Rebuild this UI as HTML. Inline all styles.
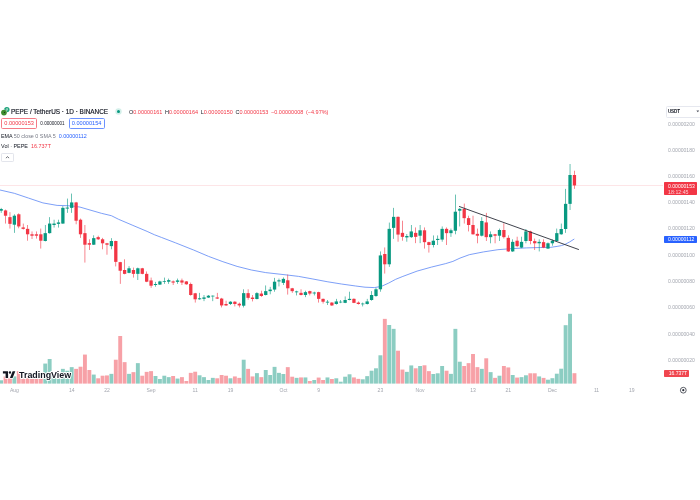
<!DOCTYPE html>
<html><head><meta charset="utf-8"><title>PEPE / TetherUS</title>
<style>
html,body{margin:0;padding:0;background:#fff;}
body{width:700px;height:500px;position:relative;overflow:hidden;font-family:"Liberation Sans",sans-serif;}
.t{position:absolute;white-space:nowrap;line-height:1;}
.ax{position:absolute;left:668.1px;font-size:5.05px;color:#a3a6af;line-height:1;white-space:nowrap;}
.dt{position:absolute;top:387.8px;font-size:5.05px;color:#a3a6af;line-height:1;white-space:nowrap;transform:translateX(-50%);}
.box{position:absolute;box-sizing:border-box;}
</style></head><body>
<svg width="700" height="500" viewBox="0 0 700 500" style="position:absolute;left:0;top:0">
<line x1="0" y1="185.5" x2="663" y2="185.5" stroke="#f8a9af" stroke-width="0.6" stroke-dasharray="0.5 0.5"/>
<rect x="-0.81" y="380.29" width="3.90" height="3.31" fill="#8ccdc2"/>
<rect x="3.60" y="376.43" width="3.90" height="7.17" fill="#f7a1a7"/>
<rect x="8.01" y="377.86" width="3.90" height="5.74" fill="#f7a1a7"/>
<rect x="12.42" y="376.43" width="3.90" height="7.17" fill="#8ccdc2"/>
<rect x="16.83" y="371.14" width="3.90" height="12.46" fill="#f7a1a7"/>
<rect x="21.24" y="378.57" width="3.90" height="5.03" fill="#f7a1a7"/>
<rect x="25.65" y="377.14" width="3.90" height="6.46" fill="#f7a1a7"/>
<rect x="30.06" y="378.86" width="3.90" height="4.74" fill="#f7a1a7"/>
<rect x="34.47" y="378.86" width="3.90" height="4.74" fill="#f7a1a7"/>
<rect x="38.88" y="377.86" width="3.90" height="5.74" fill="#f7a1a7"/>
<rect x="43.29" y="363.57" width="3.90" height="20.03" fill="#8ccdc2"/>
<rect x="47.70" y="359.00" width="3.90" height="24.60" fill="#8ccdc2"/>
<rect x="52.11" y="377.86" width="3.90" height="5.74" fill="#8ccdc2"/>
<rect x="56.52" y="378.57" width="3.90" height="5.03" fill="#8ccdc2"/>
<rect x="60.93" y="368.86" width="3.90" height="14.74" fill="#8ccdc2"/>
<rect x="65.34" y="370.71" width="3.90" height="12.89" fill="#8ccdc2"/>
<rect x="69.75" y="367.14" width="3.90" height="16.46" fill="#8ccdc2"/>
<rect x="74.16" y="368.86" width="3.90" height="14.74" fill="#f7a1a7"/>
<rect x="78.57" y="366.71" width="3.90" height="16.89" fill="#f7a1a7"/>
<rect x="82.98" y="354.57" width="3.90" height="29.03" fill="#f7a1a7"/>
<rect x="87.39" y="370.00" width="3.90" height="13.60" fill="#f7a1a7"/>
<rect x="91.80" y="374.57" width="3.90" height="9.03" fill="#8ccdc2"/>
<rect x="96.21" y="378.29" width="3.90" height="5.31" fill="#f7a1a7"/>
<rect x="100.62" y="375.71" width="3.90" height="7.89" fill="#f7a1a7"/>
<rect x="105.03" y="375.43" width="3.90" height="8.17" fill="#f7a1a7"/>
<rect x="109.44" y="373.86" width="3.90" height="9.74" fill="#8ccdc2"/>
<rect x="113.85" y="359.71" width="3.90" height="23.89" fill="#f7a1a7"/>
<rect x="118.26" y="336.00" width="3.90" height="47.60" fill="#f7a1a7"/>
<rect x="122.67" y="362.14" width="3.90" height="21.46" fill="#f7a1a7"/>
<rect x="127.08" y="373.86" width="3.90" height="9.74" fill="#8ccdc2"/>
<rect x="131.49" y="372.14" width="3.90" height="11.46" fill="#f7a1a7"/>
<rect x="135.90" y="363.14" width="3.90" height="20.46" fill="#8ccdc2"/>
<rect x="140.31" y="375.71" width="3.90" height="7.89" fill="#f7a1a7"/>
<rect x="144.72" y="371.86" width="3.90" height="11.74" fill="#f7a1a7"/>
<rect x="149.13" y="371.14" width="3.90" height="12.46" fill="#f7a1a7"/>
<rect x="153.54" y="376.00" width="3.90" height="7.60" fill="#8ccdc2"/>
<rect x="157.95" y="379.00" width="3.90" height="4.60" fill="#8ccdc2"/>
<rect x="162.36" y="375.71" width="3.90" height="7.89" fill="#8ccdc2"/>
<rect x="166.77" y="377.14" width="3.90" height="6.46" fill="#8ccdc2"/>
<rect x="171.18" y="376.00" width="3.90" height="7.60" fill="#f7a1a7"/>
<rect x="175.59" y="378.57" width="3.90" height="5.03" fill="#8ccdc2"/>
<rect x="180.00" y="377.14" width="3.90" height="6.46" fill="#f7a1a7"/>
<rect x="184.41" y="381.00" width="3.90" height="2.60" fill="#f7a1a7"/>
<rect x="188.82" y="372.86" width="3.90" height="10.74" fill="#f7a1a7"/>
<rect x="193.23" y="371.71" width="3.90" height="11.89" fill="#f7a1a7"/>
<rect x="197.64" y="375.29" width="3.90" height="8.31" fill="#8ccdc2"/>
<rect x="202.05" y="377.14" width="3.90" height="6.46" fill="#8ccdc2"/>
<rect x="206.46" y="380.00" width="3.90" height="3.60" fill="#8ccdc2"/>
<rect x="210.87" y="377.86" width="3.90" height="5.74" fill="#8ccdc2"/>
<rect x="215.28" y="378.29" width="3.90" height="5.31" fill="#f7a1a7"/>
<rect x="219.69" y="375.00" width="3.90" height="8.60" fill="#f7a1a7"/>
<rect x="224.10" y="375.71" width="3.90" height="7.89" fill="#f7a1a7"/>
<rect x="228.51" y="378.29" width="3.90" height="5.31" fill="#8ccdc2"/>
<rect x="232.92" y="376.43" width="3.90" height="7.17" fill="#f7a1a7"/>
<rect x="237.33" y="377.86" width="3.90" height="5.74" fill="#f7a1a7"/>
<rect x="241.74" y="359.71" width="3.90" height="23.89" fill="#8ccdc2"/>
<rect x="246.15" y="368.86" width="3.90" height="14.74" fill="#f7a1a7"/>
<rect x="250.56" y="376.43" width="3.90" height="7.17" fill="#f7a1a7"/>
<rect x="254.97" y="373.14" width="3.90" height="10.46" fill="#8ccdc2"/>
<rect x="259.38" y="377.14" width="3.90" height="6.46" fill="#f7a1a7"/>
<rect x="263.79" y="370.00" width="3.90" height="13.60" fill="#8ccdc2"/>
<rect x="268.20" y="375.00" width="3.90" height="8.60" fill="#8ccdc2"/>
<rect x="272.61" y="366.86" width="3.90" height="16.74" fill="#8ccdc2"/>
<rect x="277.02" y="372.86" width="3.90" height="10.74" fill="#8ccdc2"/>
<rect x="281.43" y="374.00" width="3.90" height="9.60" fill="#8ccdc2"/>
<rect x="285.84" y="367.14" width="3.90" height="16.46" fill="#f7a1a7"/>
<rect x="290.25" y="376.71" width="3.90" height="6.89" fill="#f7a1a7"/>
<rect x="294.66" y="377.86" width="3.90" height="5.74" fill="#8ccdc2"/>
<rect x="299.07" y="377.43" width="3.90" height="6.17" fill="#f7a1a7"/>
<rect x="303.48" y="377.43" width="3.90" height="6.17" fill="#8ccdc2"/>
<rect x="307.89" y="381.00" width="3.90" height="2.60" fill="#f7a1a7"/>
<rect x="312.30" y="380.00" width="3.90" height="3.60" fill="#8ccdc2"/>
<rect x="316.71" y="377.57" width="3.90" height="6.03" fill="#f7a1a7"/>
<rect x="321.12" y="380.00" width="3.90" height="3.60" fill="#f7a1a7"/>
<rect x="325.53" y="377.43" width="3.90" height="6.17" fill="#8ccdc2"/>
<rect x="329.94" y="379.00" width="3.90" height="4.60" fill="#f7a1a7"/>
<rect x="334.35" y="378.29" width="3.90" height="5.31" fill="#8ccdc2"/>
<rect x="338.76" y="381.71" width="3.90" height="1.89" fill="#8ccdc2"/>
<rect x="343.17" y="376.71" width="3.90" height="6.89" fill="#8ccdc2"/>
<rect x="347.58" y="374.29" width="3.90" height="9.31" fill="#8ccdc2"/>
<rect x="351.99" y="377.43" width="3.90" height="6.17" fill="#f7a1a7"/>
<rect x="356.40" y="378.86" width="3.90" height="4.74" fill="#f7a1a7"/>
<rect x="360.81" y="379.29" width="3.90" height="4.31" fill="#8ccdc2"/>
<rect x="365.22" y="376.14" width="3.90" height="7.46" fill="#8ccdc2"/>
<rect x="369.63" y="370.71" width="3.90" height="12.89" fill="#8ccdc2"/>
<rect x="374.04" y="368.29" width="3.90" height="15.31" fill="#8ccdc2"/>
<rect x="378.45" y="355.29" width="3.90" height="28.31" fill="#8ccdc2"/>
<rect x="382.86" y="318.86" width="3.90" height="64.74" fill="#f7a1a7"/>
<rect x="387.27" y="325.00" width="3.90" height="58.60" fill="#8ccdc2"/>
<rect x="391.68" y="328.86" width="3.90" height="54.74" fill="#8ccdc2"/>
<rect x="396.09" y="350.71" width="3.90" height="32.89" fill="#f7a1a7"/>
<rect x="400.50" y="369.57" width="3.90" height="14.03" fill="#f7a1a7"/>
<rect x="404.91" y="371.86" width="3.90" height="11.74" fill="#8ccdc2"/>
<rect x="409.32" y="365.43" width="3.90" height="18.17" fill="#8ccdc2"/>
<rect x="413.73" y="368.29" width="3.90" height="15.31" fill="#f7a1a7"/>
<rect x="418.14" y="366.00" width="3.90" height="17.60" fill="#8ccdc2"/>
<rect x="422.55" y="365.29" width="3.90" height="18.31" fill="#f7a1a7"/>
<rect x="426.96" y="371.14" width="3.90" height="12.46" fill="#f7a1a7"/>
<rect x="431.37" y="374.00" width="3.90" height="9.60" fill="#8ccdc2"/>
<rect x="435.78" y="373.29" width="3.90" height="10.31" fill="#8ccdc2"/>
<rect x="440.19" y="366.00" width="3.90" height="17.60" fill="#8ccdc2"/>
<rect x="444.60" y="370.71" width="3.90" height="12.89" fill="#f7a1a7"/>
<rect x="449.01" y="373.86" width="3.90" height="9.74" fill="#8ccdc2"/>
<rect x="453.42" y="328.86" width="3.90" height="54.74" fill="#8ccdc2"/>
<rect x="457.83" y="361.71" width="3.90" height="21.89" fill="#8ccdc2"/>
<rect x="462.24" y="366.00" width="3.90" height="17.60" fill="#f7a1a7"/>
<rect x="466.65" y="363.14" width="3.90" height="20.46" fill="#f7a1a7"/>
<rect x="471.06" y="354.00" width="3.90" height="29.60" fill="#f7a1a7"/>
<rect x="475.47" y="367.14" width="3.90" height="16.46" fill="#f7a1a7"/>
<rect x="479.88" y="368.86" width="3.90" height="14.74" fill="#8ccdc2"/>
<rect x="484.29" y="358.29" width="3.90" height="25.31" fill="#f7a1a7"/>
<rect x="488.70" y="372.14" width="3.90" height="11.46" fill="#8ccdc2"/>
<rect x="493.11" y="377.86" width="3.90" height="5.74" fill="#f7a1a7"/>
<rect x="497.52" y="375.71" width="3.90" height="7.89" fill="#8ccdc2"/>
<rect x="501.93" y="366.00" width="3.90" height="17.60" fill="#f7a1a7"/>
<rect x="506.34" y="367.43" width="3.90" height="16.17" fill="#f7a1a7"/>
<rect x="510.75" y="375.00" width="3.90" height="8.60" fill="#8ccdc2"/>
<rect x="515.16" y="377.57" width="3.90" height="6.03" fill="#f7a1a7"/>
<rect x="519.57" y="377.14" width="3.90" height="6.46" fill="#8ccdc2"/>
<rect x="523.98" y="375.29" width="3.90" height="8.31" fill="#8ccdc2"/>
<rect x="528.39" y="373.29" width="3.90" height="10.31" fill="#f7a1a7"/>
<rect x="532.80" y="373.29" width="3.90" height="10.31" fill="#f7a1a7"/>
<rect x="537.21" y="376.43" width="3.90" height="7.17" fill="#8ccdc2"/>
<rect x="541.62" y="377.90" width="3.90" height="5.70" fill="#f7a1a7"/>
<rect x="546.03" y="379.70" width="3.90" height="3.90" fill="#8ccdc2"/>
<rect x="550.44" y="378.20" width="3.90" height="5.40" fill="#8ccdc2"/>
<rect x="554.85" y="373.70" width="3.90" height="9.90" fill="#8ccdc2"/>
<rect x="559.26" y="368.70" width="3.90" height="14.90" fill="#8ccdc2"/>
<rect x="563.67" y="325.20" width="3.90" height="58.40" fill="#8ccdc2"/>
<rect x="568.08" y="313.80" width="3.90" height="69.80" fill="#8ccdc2"/>
<rect x="572.49" y="373.20" width="3.90" height="10.40" fill="#f7a1a7"/>
<polyline fill="none" stroke="#5c87f5" stroke-width="0.8" stroke-linejoin="round" points="0.0,190.0 14.3,193.3 28.6,198.1 42.9,202.9 57.1,205.4 67.1,205.7 74.0,206.2 80.0,207.1 90.0,210.0 101.4,213.3 111.4,215.7 118.6,219.3 132.9,225.4 147.1,231.4 154.3,234.7 161.4,237.4 175.7,242.9 190.0,248.6 193.6,250.0 208.6,256.4 222.9,261.7 237.1,266.4 251.4,270.0 265.7,272.6 280.0,274.2 287.1,275.0 298.6,276.4 312.9,279.0 327.1,281.7 341.4,284.0 355.7,286.0 365.0,287.2 374.3,287.6 381.4,286.4 388.6,283.1 395.7,279.3 402.9,276.4 417.1,271.1 431.4,267.1 445.7,263.6 452.9,261.4 460.0,258.1 469.3,254.7 483.6,251.9 497.9,249.7 512.1,248.6 526.4,247.9 540.7,247.5 550.3,247.4 557.1,246.4 561.4,245.6 565.0,244.4 569.5,242.0 574.3,239.0"/>
<rect x="0.84" y="207.86" width="0.6" height="5.00" fill="#089981"/>
<rect x="-0.51" y="209.00" width="3.30" height="1.71" fill="#089981"/>
<rect x="5.25" y="209.57" width="0.6" height="14.00" fill="#f23645"/>
<rect x="3.90" y="210.43" width="3.30" height="5.29" fill="#f23645"/>
<rect x="9.66" y="212.14" width="0.6" height="16.43" fill="#f23645"/>
<rect x="8.31" y="217.14" width="3.30" height="6.71" fill="#f23645"/>
<rect x="14.07" y="214.29" width="0.6" height="18.57" fill="#089981"/>
<rect x="12.72" y="215.71" width="3.30" height="9.00" fill="#089981"/>
<rect x="18.48" y="213.29" width="0.6" height="15.00" fill="#f23645"/>
<rect x="17.13" y="214.29" width="3.30" height="12.14" fill="#f23645"/>
<rect x="22.89" y="223.57" width="0.6" height="6.00" fill="#f23645"/>
<rect x="21.54" y="227.43" width="3.30" height="1.43" fill="#f23645"/>
<rect x="27.30" y="225.00" width="0.6" height="15.71" fill="#f23645"/>
<rect x="25.95" y="228.86" width="3.30" height="5.43" fill="#f23645"/>
<rect x="31.71" y="231.43" width="0.6" height="7.57" fill="#f23645"/>
<rect x="30.36" y="234.29" width="3.30" height="1.43" fill="#f23645"/>
<rect x="36.12" y="231.43" width="0.6" height="7.14" fill="#f23645"/>
<rect x="34.77" y="234.29" width="3.30" height="1.43" fill="#f23645"/>
<rect x="40.53" y="228.57" width="0.6" height="20.00" fill="#f23645"/>
<rect x="39.18" y="234.29" width="3.30" height="6.43" fill="#f23645"/>
<rect x="44.94" y="225.00" width="0.6" height="16.43" fill="#089981"/>
<rect x="43.59" y="233.14" width="3.30" height="7.86" fill="#089981"/>
<rect x="49.35" y="217.14" width="0.6" height="16.43" fill="#089981"/>
<rect x="48.00" y="223.57" width="3.30" height="9.57" fill="#089981"/>
<rect x="53.76" y="219.71" width="0.6" height="7.86" fill="#089981"/>
<rect x="52.41" y="223.57" width="3.30" height="1.43" fill="#089981"/>
<rect x="58.17" y="219.71" width="0.6" height="7.86" fill="#089981"/>
<rect x="56.82" y="222.43" width="3.30" height="1.43" fill="#089981"/>
<rect x="62.58" y="206.14" width="0.6" height="17.71" fill="#089981"/>
<rect x="61.23" y="207.86" width="3.30" height="15.71" fill="#089981"/>
<rect x="66.99" y="198.57" width="0.6" height="14.29" fill="#089981"/>
<rect x="65.64" y="207.57" width="3.30" height="1.00" fill="#089981"/>
<rect x="71.40" y="193.57" width="0.6" height="19.29" fill="#089981"/>
<rect x="70.05" y="202.43" width="3.30" height="5.43" fill="#089981"/>
<rect x="75.81" y="201.86" width="0.6" height="22.43" fill="#f23645"/>
<rect x="74.46" y="202.43" width="3.30" height="18.29" fill="#f23645"/>
<rect x="80.22" y="218.57" width="0.6" height="19.29" fill="#f23645"/>
<rect x="78.87" y="219.71" width="3.30" height="14.57" fill="#f23645"/>
<rect x="84.63" y="225.00" width="0.6" height="37.57" fill="#f23645"/>
<rect x="83.28" y="233.14" width="3.30" height="11.57" fill="#f23645"/>
<rect x="89.04" y="239.29" width="0.6" height="10.71" fill="#f23645"/>
<rect x="87.69" y="243.14" width="3.30" height="1.57" fill="#f23645"/>
<rect x="93.45" y="235.29" width="0.6" height="9.71" fill="#089981"/>
<rect x="92.10" y="238.14" width="3.30" height="6.57" fill="#089981"/>
<rect x="97.86" y="235.71" width="0.6" height="4.29" fill="#f23645"/>
<rect x="96.51" y="237.14" width="3.30" height="2.14" fill="#f23645"/>
<rect x="102.27" y="237.86" width="0.6" height="11.43" fill="#f23645"/>
<rect x="100.92" y="239.29" width="3.30" height="4.00" fill="#f23645"/>
<rect x="106.68" y="242.86" width="0.6" height="11.86" fill="#f23645"/>
<rect x="105.33" y="243.29" width="3.30" height="1.43" fill="#f23645"/>
<rect x="111.09" y="238.14" width="0.6" height="11.14" fill="#089981"/>
<rect x="109.74" y="241.00" width="3.30" height="5.14" fill="#089981"/>
<rect x="115.50" y="240.71" width="0.6" height="25.71" fill="#f23645"/>
<rect x="114.15" y="241.00" width="3.30" height="20.86" fill="#f23645"/>
<rect x="119.91" y="261.86" width="0.6" height="22.00" fill="#f23645"/>
<rect x="118.56" y="262.14" width="3.30" height="8.57" fill="#f23645"/>
<rect x="124.32" y="259.29" width="0.6" height="15.00" fill="#f23645"/>
<rect x="122.97" y="270.00" width="3.30" height="3.86" fill="#f23645"/>
<rect x="128.73" y="266.14" width="0.6" height="7.14" fill="#089981"/>
<rect x="127.38" y="268.29" width="3.30" height="4.57" fill="#089981"/>
<rect x="133.14" y="267.57" width="0.6" height="10.00" fill="#f23645"/>
<rect x="131.79" y="270.00" width="3.30" height="3.86" fill="#f23645"/>
<rect x="137.55" y="267.57" width="0.6" height="12.43" fill="#089981"/>
<rect x="136.20" y="268.29" width="3.30" height="5.57" fill="#089981"/>
<rect x="141.96" y="267.86" width="0.6" height="6.43" fill="#f23645"/>
<rect x="140.61" y="268.29" width="3.30" height="5.57" fill="#f23645"/>
<rect x="146.37" y="271.43" width="0.6" height="10.71" fill="#f23645"/>
<rect x="145.02" y="273.86" width="3.30" height="7.86" fill="#f23645"/>
<rect x="150.78" y="277.57" width="0.6" height="10.29" fill="#f23645"/>
<rect x="149.43" y="280.43" width="3.30" height="5.29" fill="#f23645"/>
<rect x="155.19" y="281.86" width="0.6" height="4.86" fill="#089981"/>
<rect x="153.84" y="284.00" width="3.30" height="1.00" fill="#089981"/>
<rect x="159.60" y="280.71" width="0.6" height="4.29" fill="#089981"/>
<rect x="158.25" y="281.43" width="3.30" height="3.14" fill="#089981"/>
<rect x="164.01" y="277.57" width="0.6" height="6.29" fill="#089981"/>
<rect x="162.66" y="281.00" width="3.30" height="0.71" fill="#089981"/>
<rect x="168.42" y="278.57" width="0.6" height="5.29" fill="#089981"/>
<rect x="167.07" y="280.14" width="3.30" height="1.57" fill="#089981"/>
<rect x="172.83" y="280.43" width="0.6" height="4.57" fill="#f23645"/>
<rect x="171.48" y="281.43" width="3.30" height="1.14" fill="#f23645"/>
<rect x="177.24" y="278.57" width="0.6" height="5.29" fill="#089981"/>
<rect x="175.89" y="280.43" width="3.30" height="1.43" fill="#089981"/>
<rect x="181.65" y="278.57" width="0.6" height="6.43" fill="#f23645"/>
<rect x="180.30" y="280.43" width="3.30" height="2.14" fill="#f23645"/>
<rect x="186.06" y="281.00" width="0.6" height="3.71" fill="#f23645"/>
<rect x="184.71" y="281.43" width="3.30" height="2.86" fill="#f23645"/>
<rect x="190.47" y="282.57" width="0.6" height="13.14" fill="#f23645"/>
<rect x="189.12" y="284.00" width="3.30" height="11.00" fill="#f23645"/>
<rect x="194.88" y="292.86" width="0.6" height="9.71" fill="#f23645"/>
<rect x="193.53" y="293.29" width="3.30" height="6.00" fill="#f23645"/>
<rect x="199.29" y="292.86" width="0.6" height="6.86" fill="#089981"/>
<rect x="197.94" y="298.29" width="3.30" height="1.00" fill="#089981"/>
<rect x="203.70" y="295.00" width="0.6" height="6.14" fill="#089981"/>
<rect x="202.35" y="297.43" width="3.30" height="1.43" fill="#089981"/>
<rect x="208.11" y="295.00" width="0.6" height="3.00" fill="#089981"/>
<rect x="206.76" y="295.71" width="3.30" height="1.86" fill="#089981"/>
<rect x="212.52" y="295.43" width="0.6" height="5.71" fill="#089981"/>
<rect x="211.17" y="295.71" width="3.30" height="0.71" fill="#089981"/>
<rect x="216.93" y="292.86" width="0.6" height="6.14" fill="#f23645"/>
<rect x="215.58" y="297.43" width="3.30" height="1.14" fill="#f23645"/>
<rect x="221.34" y="297.86" width="0.6" height="9.57" fill="#f23645"/>
<rect x="219.99" y="298.57" width="3.30" height="6.86" fill="#f23645"/>
<rect x="225.75" y="300.71" width="0.6" height="5.29" fill="#f23645"/>
<rect x="224.40" y="304.00" width="3.30" height="1.43" fill="#f23645"/>
<rect x="230.16" y="301.14" width="0.6" height="3.86" fill="#089981"/>
<rect x="228.81" y="301.71" width="3.30" height="2.29" fill="#089981"/>
<rect x="234.57" y="301.14" width="0.6" height="5.29" fill="#f23645"/>
<rect x="233.22" y="301.71" width="3.30" height="2.29" fill="#f23645"/>
<rect x="238.98" y="302.57" width="0.6" height="4.86" fill="#f23645"/>
<rect x="237.63" y="303.71" width="3.30" height="1.71" fill="#f23645"/>
<rect x="243.39" y="289.29" width="0.6" height="18.14" fill="#089981"/>
<rect x="242.04" y="293.14" width="3.30" height="12.57" fill="#089981"/>
<rect x="247.80" y="289.29" width="0.6" height="10.43" fill="#f23645"/>
<rect x="246.45" y="293.14" width="3.30" height="4.71" fill="#f23645"/>
<rect x="252.21" y="295.00" width="0.6" height="6.43" fill="#f23645"/>
<rect x="250.86" y="297.57" width="3.30" height="1.43" fill="#f23645"/>
<rect x="256.62" y="292.14" width="0.6" height="7.29" fill="#089981"/>
<rect x="255.27" y="293.14" width="3.30" height="5.86" fill="#089981"/>
<rect x="261.03" y="290.71" width="0.6" height="6.14" fill="#f23645"/>
<rect x="259.68" y="293.57" width="3.30" height="2.43" fill="#f23645"/>
<rect x="265.44" y="285.43" width="0.6" height="10.00" fill="#089981"/>
<rect x="264.09" y="291.14" width="3.30" height="3.86" fill="#089981"/>
<rect x="269.85" y="286.86" width="0.6" height="7.43" fill="#089981"/>
<rect x="268.50" y="289.57" width="3.30" height="1.57" fill="#089981"/>
<rect x="274.26" y="277.86" width="0.6" height="13.86" fill="#089981"/>
<rect x="272.91" y="281.71" width="3.30" height="7.86" fill="#089981"/>
<rect x="278.67" y="278.57" width="0.6" height="7.86" fill="#089981"/>
<rect x="277.32" y="280.29" width="3.30" height="1.14" fill="#089981"/>
<rect x="283.08" y="277.43" width="0.6" height="7.57" fill="#089981"/>
<rect x="281.73" y="278.86" width="3.30" height="4.00" fill="#089981"/>
<rect x="287.49" y="274.57" width="0.6" height="20.00" fill="#f23645"/>
<rect x="286.14" y="280.29" width="3.30" height="8.00" fill="#f23645"/>
<rect x="291.90" y="287.86" width="0.6" height="5.00" fill="#f23645"/>
<rect x="290.55" y="288.29" width="3.30" height="2.86" fill="#f23645"/>
<rect x="296.31" y="290.71" width="0.6" height="4.71" fill="#089981"/>
<rect x="294.96" y="291.43" width="3.30" height="0.86" fill="#089981"/>
<rect x="300.72" y="289.29" width="0.6" height="6.14" fill="#f23645"/>
<rect x="299.37" y="292.86" width="3.30" height="2.14" fill="#f23645"/>
<rect x="305.13" y="290.71" width="0.6" height="6.43" fill="#089981"/>
<rect x="303.78" y="292.14" width="3.30" height="2.86" fill="#089981"/>
<rect x="309.54" y="290.71" width="0.6" height="4.71" fill="#f23645"/>
<rect x="308.19" y="291.14" width="3.30" height="2.43" fill="#f23645"/>
<rect x="313.95" y="291.71" width="0.6" height="3.71" fill="#089981"/>
<rect x="312.60" y="292.57" width="3.30" height="0.86" fill="#089981"/>
<rect x="318.36" y="291.71" width="0.6" height="10.86" fill="#f23645"/>
<rect x="317.01" y="292.14" width="3.30" height="6.71" fill="#f23645"/>
<rect x="322.77" y="298.57" width="0.6" height="5.00" fill="#f23645"/>
<rect x="321.42" y="298.86" width="3.30" height="2.86" fill="#f23645"/>
<rect x="327.18" y="300.00" width="0.6" height="5.00" fill="#089981"/>
<rect x="325.83" y="301.71" width="3.30" height="0.86" fill="#089981"/>
<rect x="331.59" y="302.14" width="0.6" height="3.86" fill="#f23645"/>
<rect x="330.24" y="302.57" width="3.30" height="2.86" fill="#f23645"/>
<rect x="336.00" y="298.86" width="0.6" height="5.71" fill="#089981"/>
<rect x="334.65" y="301.43" width="3.30" height="2.57" fill="#089981"/>
<rect x="340.41" y="300.00" width="0.6" height="3.14" fill="#089981"/>
<rect x="339.06" y="301.71" width="3.30" height="0.71" fill="#089981"/>
<rect x="344.82" y="296.43" width="0.6" height="6.71" fill="#089981"/>
<rect x="343.47" y="300.00" width="3.30" height="2.86" fill="#089981"/>
<rect x="349.23" y="291.71" width="0.6" height="8.57" fill="#089981"/>
<rect x="347.88" y="298.86" width="3.30" height="1.14" fill="#089981"/>
<rect x="353.64" y="298.29" width="0.6" height="4.86" fill="#f23645"/>
<rect x="352.29" y="298.86" width="3.30" height="4.00" fill="#f23645"/>
<rect x="358.05" y="301.43" width="0.6" height="3.14" fill="#f23645"/>
<rect x="356.70" y="302.57" width="3.30" height="1.43" fill="#f23645"/>
<rect x="362.46" y="302.57" width="0.6" height="3.86" fill="#089981"/>
<rect x="361.11" y="303.57" width="3.30" height="0.71" fill="#089981"/>
<rect x="366.87" y="298.86" width="0.6" height="5.71" fill="#089981"/>
<rect x="365.52" y="301.43" width="3.30" height="2.57" fill="#089981"/>
<rect x="371.28" y="291.14" width="0.6" height="9.57" fill="#089981"/>
<rect x="369.93" y="295.00" width="3.30" height="5.00" fill="#089981"/>
<rect x="375.69" y="287.86" width="0.6" height="9.00" fill="#089981"/>
<rect x="374.34" y="289.29" width="3.30" height="6.71" fill="#089981"/>
<rect x="380.10" y="251.43" width="0.6" height="40.29" fill="#089981"/>
<rect x="378.75" y="255.43" width="3.30" height="33.86" fill="#089981"/>
<rect x="384.51" y="247.43" width="0.6" height="26.14" fill="#f23645"/>
<rect x="383.16" y="254.00" width="3.30" height="10.29" fill="#f23645"/>
<rect x="388.92" y="222.57" width="0.6" height="44.29" fill="#089981"/>
<rect x="387.57" y="228.86" width="3.30" height="35.43" fill="#089981"/>
<rect x="393.33" y="207.86" width="0.6" height="31.00" fill="#089981"/>
<rect x="391.98" y="216.86" width="3.30" height="11.00" fill="#089981"/>
<rect x="397.74" y="216.43" width="0.6" height="25.29" fill="#f23645"/>
<rect x="396.39" y="216.86" width="3.30" height="17.71" fill="#f23645"/>
<rect x="402.15" y="220.71" width="0.6" height="20.00" fill="#f23645"/>
<rect x="400.80" y="232.86" width="3.30" height="4.00" fill="#f23645"/>
<rect x="406.56" y="234.00" width="0.6" height="7.71" fill="#089981"/>
<rect x="405.21" y="236.00" width="3.30" height="1.43" fill="#089981"/>
<rect x="410.97" y="225.00" width="0.6" height="12.86" fill="#089981"/>
<rect x="409.62" y="231.43" width="3.30" height="5.71" fill="#089981"/>
<rect x="415.38" y="227.43" width="0.6" height="15.71" fill="#f23645"/>
<rect x="414.03" y="232.86" width="3.30" height="4.00" fill="#f23645"/>
<rect x="419.79" y="225.00" width="0.6" height="18.14" fill="#089981"/>
<rect x="418.44" y="230.29" width="3.30" height="5.43" fill="#089981"/>
<rect x="424.20" y="227.43" width="0.6" height="21.14" fill="#f23645"/>
<rect x="422.85" y="230.29" width="3.30" height="11.86" fill="#f23645"/>
<rect x="428.61" y="241.71" width="0.6" height="10.86" fill="#f23645"/>
<rect x="427.26" y="242.14" width="3.30" height="2.86" fill="#f23645"/>
<rect x="433.02" y="235.43" width="0.6" height="12.00" fill="#089981"/>
<rect x="431.67" y="240.71" width="3.30" height="4.29" fill="#089981"/>
<rect x="437.43" y="235.43" width="0.6" height="9.57" fill="#089981"/>
<rect x="436.08" y="238.86" width="3.30" height="1.14" fill="#089981"/>
<rect x="441.84" y="226.43" width="0.6" height="15.29" fill="#089981"/>
<rect x="440.49" y="228.86" width="3.30" height="10.71" fill="#089981"/>
<rect x="446.25" y="227.43" width="0.6" height="17.57" fill="#f23645"/>
<rect x="444.90" y="228.86" width="3.30" height="4.29" fill="#f23645"/>
<rect x="450.66" y="228.57" width="0.6" height="8.29" fill="#089981"/>
<rect x="449.31" y="230.29" width="3.30" height="2.86" fill="#089981"/>
<rect x="455.07" y="194.57" width="0.6" height="39.71" fill="#089981"/>
<rect x="453.72" y="211.71" width="3.30" height="19.00" fill="#089981"/>
<rect x="459.48" y="208.14" width="0.6" height="18.29" fill="#089981"/>
<rect x="458.13" y="208.86" width="3.30" height="1.86" fill="#089981"/>
<rect x="463.89" y="203.57" width="0.6" height="20.00" fill="#f23645"/>
<rect x="462.54" y="208.86" width="3.30" height="9.29" fill="#f23645"/>
<rect x="468.30" y="215.71" width="0.6" height="15.71" fill="#f23645"/>
<rect x="466.95" y="218.14" width="3.30" height="6.86" fill="#f23645"/>
<rect x="472.71" y="215.71" width="0.6" height="19.00" fill="#f23645"/>
<rect x="471.36" y="225.00" width="3.30" height="9.29" fill="#f23645"/>
<rect x="477.12" y="228.57" width="0.6" height="14.71" fill="#f23645"/>
<rect x="475.77" y="233.86" width="3.30" height="1.86" fill="#f23645"/>
<rect x="481.53" y="217.14" width="0.6" height="19.29" fill="#089981"/>
<rect x="480.18" y="221.00" width="3.30" height="14.71" fill="#089981"/>
<rect x="485.94" y="212.86" width="0.6" height="28.14" fill="#f23645"/>
<rect x="484.59" y="222.43" width="3.30" height="14.71" fill="#f23645"/>
<rect x="490.35" y="231.43" width="0.6" height="11.86" fill="#089981"/>
<rect x="489.00" y="234.29" width="3.30" height="2.86" fill="#089981"/>
<rect x="494.76" y="233.86" width="0.6" height="9.43" fill="#f23645"/>
<rect x="493.41" y="234.29" width="3.30" height="1.43" fill="#f23645"/>
<rect x="499.17" y="228.57" width="0.6" height="12.43" fill="#089981"/>
<rect x="497.82" y="230.00" width="3.30" height="5.71" fill="#089981"/>
<rect x="503.58" y="223.29" width="0.6" height="15.29" fill="#f23645"/>
<rect x="502.23" y="230.00" width="3.30" height="7.14" fill="#f23645"/>
<rect x="507.99" y="235.29" width="0.6" height="16.57" fill="#f23645"/>
<rect x="506.64" y="237.86" width="3.30" height="13.57" fill="#f23645"/>
<rect x="512.40" y="239.29" width="0.6" height="12.57" fill="#089981"/>
<rect x="511.05" y="241.86" width="3.30" height="9.57" fill="#089981"/>
<rect x="516.81" y="236.71" width="0.6" height="10.43" fill="#f23645"/>
<rect x="515.46" y="240.71" width="3.30" height="5.43" fill="#f23645"/>
<rect x="521.22" y="236.71" width="0.6" height="11.43" fill="#089981"/>
<rect x="519.87" y="241.86" width="3.30" height="5.71" fill="#089981"/>
<rect x="525.63" y="229.00" width="0.6" height="14.29" fill="#089981"/>
<rect x="524.28" y="231.43" width="3.30" height="9.57" fill="#089981"/>
<rect x="530.04" y="230.71" width="0.6" height="13.57" fill="#f23645"/>
<rect x="528.69" y="231.43" width="3.30" height="9.57" fill="#f23645"/>
<rect x="534.45" y="238.57" width="0.6" height="11.43" fill="#f23645"/>
<rect x="533.10" y="241.14" width="3.30" height="2.14" fill="#f23645"/>
<rect x="538.86" y="239.29" width="0.6" height="12.14" fill="#089981"/>
<rect x="537.51" y="241.86" width="3.30" height="1.43" fill="#089981"/>
<rect x="543.27" y="239.29" width="0.6" height="8.86" fill="#f23645"/>
<rect x="541.92" y="242.14" width="3.30" height="5.43" fill="#f23645"/>
<rect x="547.68" y="242.43" width="0.6" height="6.57" fill="#089981"/>
<rect x="546.33" y="243.29" width="3.30" height="5.29" fill="#089981"/>
<rect x="552.09" y="239.57" width="0.6" height="6.14" fill="#089981"/>
<rect x="550.74" y="240.71" width="3.30" height="2.57" fill="#089981"/>
<rect x="556.50" y="228.57" width="0.6" height="12.86" fill="#089981"/>
<rect x="555.15" y="233.14" width="3.30" height="7.86" fill="#089981"/>
<rect x="560.91" y="223.57" width="0.6" height="11.14" fill="#089981"/>
<rect x="559.56" y="229.00" width="3.30" height="5.29" fill="#089981"/>
<rect x="565.32" y="188.86" width="0.6" height="44.00" fill="#089981"/>
<rect x="563.97" y="203.86" width="3.30" height="25.14" fill="#089981"/>
<rect x="569.73" y="164.00" width="0.6" height="46.00" fill="#089981"/>
<rect x="568.38" y="175.00" width="3.30" height="28.86" fill="#089981"/>
<rect x="574.14" y="170.71" width="0.6" height="18.14" fill="#f23645"/>
<rect x="572.79" y="175.00" width="3.30" height="10.43" fill="#f23645"/>
<line x1="459" y1="206.4" x2="578.9" y2="249.6" stroke="#2a2e39" stroke-width="0.9"/>
</svg>

<!-- legend -->
<svg style="position:absolute;left:0;top:106px" width="11" height="11" viewBox="0 0 11 11">
<circle cx="6.85" cy="3.6" r="2.7" fill="#1ba27a"/>
<path d="M6.1 2.9 H8.1 M7.1 2.9 V4.6" stroke="#e8f6f1" stroke-width="0.7" fill="none"/>
<circle cx="3.96" cy="6.6" r="3.15" fill="#fff"/>
<circle cx="3.96" cy="6.6" r="2.85" fill="#3c8c2e"/>
<circle cx="4.5" cy="6.4" r="0.65" fill="#1c3d1a"/>
</svg>
<div class="t" id="title" style="left:11px;top:109.3px;font-size:6.9px;color:#131722;-webkit-text-stroke:0.18px #131722;transform:scaleX(0.93);transform-origin:0 0;">PEPE / TetherUS · 1D · BINANCE</div>
<svg style="position:absolute;left:114px;top:106.5px" width="9" height="9" viewBox="0 0 9 9"><circle cx="4.5" cy="4.5" r="3.2" fill="#d3efe9"/><circle cx="4.5" cy="4.5" r="1.5" fill="#089981"/></svg>
<div class="t" id="ohlc" style="left:129px;top:109.5px;font-size:5.5px;word-spacing:1.1px;color:#f23645;"><span style="color:#131722">O</span>0.00000161 <span style="color:#131722">H</span>0.00000164 <span style="color:#131722">L</span>0.00000150 <span style="color:#131722">C</span>0.00000153 −0.00000008 (−4.97%)</div>

<div class="box" style="left:1px;top:118px;width:36px;height:11px;border:1px solid #f57a85;border-radius:1.6px;"></div>
<div class="t" id="b1" style="left:4.3px;top:121.2px;font-size:5.6px;color:#f23645;">0.00000153</div>
<div class="t" id="mid" style="left:40.3px;top:121.6px;font-size:4.6px;color:#131722;">0.00000001</div>
<div class="box" style="left:69px;top:118px;width:36px;height:11px;border:1px solid #6c92ff;border-radius:1.6px;"></div>
<div class="t" id="b2" style="left:71.8px;top:121.2px;font-size:5.6px;color:#2962ff;">0.00000154</div>

<div class="t" id="ema" style="left:0.9px;top:133.6px;font-size:5.4px;color:#787b86;"><span style="color:#131722">EMA</span> 50 close 0 SMA 5 &nbsp;<span style="color:#2962ff">0.00000112</span></div>
<div class="t" id="vol" style="left:1.1px;top:144.2px;font-size:5.45px;color:#131722;">Vol · PEPE &nbsp;<span style="color:#f23645">16.737T</span></div>
<div class="box" style="left:1.1px;top:153px;width:12.9px;height:8.6px;border:1px solid #e3e5ec;border-radius:1.2px;"></div>
<svg style="position:absolute;left:5px;top:155px" width="5" height="5" viewBox="0 0 5 5"><path d="M0.9 3.1 L2.5 1.7 L4.1 3.1" fill="none" stroke="#131722" stroke-width="0.6"/></svg>

<!-- TradingView logo -->
<svg style="position:absolute;left:0;top:366px" width="76" height="16" viewBox="0 0 76 16">
<g fill="#131722" stroke="#fff" stroke-width="1.6" stroke-linejoin="round" paint-order="stroke">
<path d="M2.9 5.3 H8.1 V12 H5.6 V7.6 H2.9 Z"/>
<circle cx="10" cy="6.5" r="1.2"/>
<path d="M12.6 5.3 H15.3 L12.6 12 H9.9 Z"/>
<text x="19" y="11.7" font-family="Liberation Sans, sans-serif" font-weight="bold" font-size="8.9" stroke-width="1.8">TradingView</text>
</g>
</svg>

<!-- right axis -->
<div class="box" style="left:666.1px;top:106px;width:36px;height:12px;border:1px solid #e6e8ef;border-radius:1.5px;"></div>
<div class="t" id="usdt" style="left:667.9px;top:110.4px;font-size:4.6px;color:#131722;font-weight:bold;letter-spacing:-0.1px;">USDT</div>
<svg style="position:absolute;left:695.5px;top:110.4px" width="4" height="3" viewBox="0 0 4 3"><path d="M0.4 0.5 H3.2 L1.8 2.3 Z" fill="#50535e"/></svg>

<div class="ax" style="top:121.9px">0.00000200</div>
<div class="ax" style="top:147.8px">0.00000180</div>
<div class="ax" style="top:173.6px">0.00000160</div>
<div class="ax" style="top:200.4px">0.00000140</div>
<div class="ax" style="top:226.3px">0.00000120</div>
<div class="ax" style="top:252.7px">0.00000100</div>
<div class="ax" style="top:279.2px">0.00000080</div>
<div class="ax" style="top:305.4px">0.00000060</div>
<div class="ax" style="top:331.6px">0.00000040</div>
<div class="ax" style="top:358px">0.00000020</div>

<div class="box" style="left:664.4px;top:181.8px;width:32.6px;height:13.7px;background:#f23645;border-radius:0.8px;"></div>
<div class="ax" style="top:183.6px;color:#fff;">0.00000153</div>
<div class="ax" style="top:190.2px;color:#fbd0d4;font-size:5.25px;">18:12:45</div>
<div class="box" style="left:664.4px;top:235.7px;width:32.6px;height:7.3px;background:#2962ff;border-radius:0.8px;"></div>
<div class="ax" style="top:237px;color:#fff;">0.00000112</div>
<div class="box" style="left:664.4px;top:369.9px;width:24.6px;height:7.1px;background:#f0464f;border-radius:0.8px;"></div>
<div class="ax" style="top:371px;left:668.7px;color:#fff;">16.737T</div>

<!-- gear -->
<svg style="position:absolute;left:679px;top:386px" width="8.6" height="8.6" viewBox="0 0 8.6 8.6"><circle cx="4.3" cy="4.2" r="2.9" fill="none" stroke="#2a2e39" stroke-width="0.75"/><circle cx="4.3" cy="4.2" r="1.1" fill="#2a2e39"/></svg>

<!-- dates -->
<div class="dt" style="left:14.4px">Aug</div>
<div class="dt" style="left:71.7px">14</div>
<div class="dt" style="left:107.0px">22</div>
<div class="dt" style="left:151.1px">Sep</div>
<div class="dt" style="left:195.2px">11</div>
<div class="dt" style="left:230.5px">19</div>
<div class="dt" style="left:283.4px">Oct</div>
<div class="dt" style="left:318.7px">9</div>
<div class="dt" style="left:380.4px">23</div>
<div class="dt" style="left:420.1px">Nov</div>
<div class="dt" style="left:473.0px">13</div>
<div class="dt" style="left:508.3px">21</div>
<div class="dt" style="left:552.4px">Dec</div>
<div class="dt" style="left:596.5px">11</div>
<div class="dt" style="left:631.8px">19</div>
</body></html>
